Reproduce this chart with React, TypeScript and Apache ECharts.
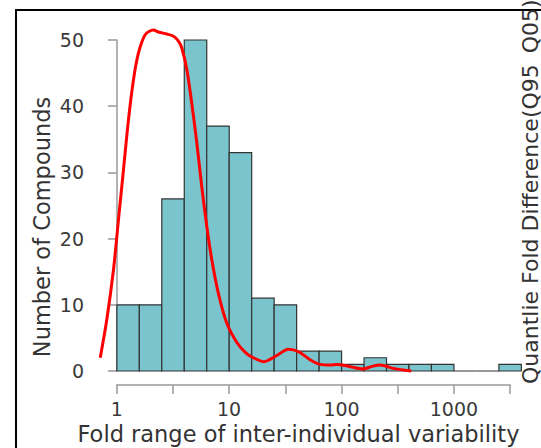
import React, { useEffect, useRef } from "react";
import * as echarts from "echarts";

// Histogram bins on log10(fold range)
const binStart = [0, 0.2, 0.4, 0.6, 0.8, 1.0, 1.2, 1.4, 1.6, 1.8, 2.0, 2.2, 2.4, 2.6, 2.8, 3.0, 3.2, 3.4];
const binEnd = [0.2, 0.4, 0.6, 0.8, 1.0, 1.2, 1.4, 1.6, 1.8, 2.0, 2.2, 2.4, 2.6, 2.8, 3.0, 3.2, 3.4, 3.6];
const binCounts = [10, 10, 26, 50, 37, 33, 11, 10, 3, 3, 1, 2, 1, 1, 1, 0, 0, 1];

// Density curve (log10 x, scaled count y)
const densityX = [-0.148, -0.09, -0.03, 0.014, 0.059, 0.103, 0.148, 0.192, 0.252, 0.326, 0.37, 0.445, 0.5, 0.545, 0.578, 0.623, 0.667, 0.712, 0.756, 0.801, 0.845, 0.904, 0.979, 1.068, 1.15, 1.215, 1.31, 1.42, 1.527, 1.62, 1.72, 1.81, 1.9, 1.96, 2.076, 2.19, 2.27, 2.343, 2.46, 2.62];
const densityY = [2.0, 7.7, 15.3, 22.8, 30.4, 37.9, 44.0, 48.0, 50.8, 51.5, 51.2, 50.9, 50.6, 49.9, 48.8, 45.5, 40.4, 34.4, 27.8, 21.8, 16.8, 11.7, 7.2, 4.3, 2.7, 2.0, 1.4, 2.3, 3.3, 2.9, 1.7, 1.0, 0.9, 1.0, 0.65, 0.3, 0.7, 0.9, 0.4, 0.0];

// Axis ticks
const yTicks = [0, 10, 20, 30, 40, 50];
const xTickLabels: Record<string, string> = { "0": "1", "1": "10", "2": "100", "3": "1000" };

const FONT = "'DejaVu Sans', Verdana, sans-serif";

export default function App() {
  const ref = useRef<HTMLDivElement>(null);
  useEffect(() => {
    if (!ref.current) return;
    const chart = echarts.init(ref.current, null, { renderer: "svg" });
    const bars = binStart.map((s, i) => [s, binEnd[i], binCounts[i]]);
    const dens = densityX.map((x, i) => [x, densityY[i]]);
    chart.setOption({
      animation: false,
      backgroundColor: "#fff",
      grid: [
        { left: 100, right: 2.8, top: 40, bottom: 77 },
        { left: 116.7, right: 30.9, top: 300, bottom: 63 },
      ],
      xAxis: [
        { type: "value", gridIndex: 0, min: -0.15, max: 3.75, show: false },
        {
          type: "value",
          gridIndex: 1,
          min: 0,
          max: 3.5,
          interval: 0.5,
          axisLine: { show: true, lineStyle: { color: "#999", width: 1.5 } },
          axisTick: { show: true, length: 9, lineStyle: { color: "#999", width: 1.5 } },
          splitLine: { show: false },
          axisLabel: {
            margin: 14,
            fontSize: 19,
            fontFamily: FONT,
            color: "#3a3a3a",
            formatter: (v: number) => xTickLabels[String(v)] ?? "",
          },
        },
      ],
      yAxis: [
        {
          type: "value",
          gridIndex: 0,
          min: yTicks[0],
          max: yTicks[yTicks.length - 1],
          interval: 10,
          axisLine: { show: true, lineStyle: { color: "#999", width: 1.5 } },
          axisTick: { show: true, length: 9, lineStyle: { color: "#999", width: 1.5 } },
          splitLine: { show: false },
          axisLabel: { margin: 16, fontSize: 19, fontFamily: FONT, color: "#3a3a3a" },
        },
        { type: "value", gridIndex: 1, min: 0, max: 1, show: false },
      ],
      graphic: [
        {
          type: "rect",
          shape: { x: 16, y: 10, width: 700, height: 700 },
          style: { fill: "none", stroke: "#000", lineWidth: 2 },
          silent: true,
        },
        {
          type: "text",
          x: 42,
          y: 227,
          rotation: Math.PI / 2,
          style: {
            text: "Number of Compounds",
            font: `22.5px ${FONT}`,
            fill: "#333",
            align: "center",
            verticalAlign: "middle",
            textAlign: "center",
            textVerticalAlign: "middle",
          },
        },
        {
          type: "text",
          x: 298.5,
          y: 434,
          style: {
            text: "Fold range of inter-individual variability",
            font: `22.5px ${FONT}`,
            fill: "#333",
            align: "center",
            verticalAlign: "middle",
            textAlign: "center",
            textVerticalAlign: "middle",
          },
        },
        {
          type: "text",
          x: 530,
          y: 384,
          rotation: Math.PI / 2,
          style: {
            text: "Quantlie Fold Difference(Q95_Q05)",
            font: `22px ${FONT}`,
            fill: "#333",
            align: "left",
            verticalAlign: "middle",
            textAlign: "left",
            textVerticalAlign: "middle",
          },
        },
      ],
      series: [
        {
          type: "custom",
          xAxisIndex: 0,
          yAxisIndex: 0,
          data: bars,
          encode: { x: [0, 1], y: 2 },
          clip: false,
          z: 2,
          renderItem: (params: any, api: any) => {
            const p0 = api.coord([api.value(0), api.value(2)]);
            const p1 = api.coord([api.value(1), 0]);
            return {
              type: "rect",
              shape: { x: p0[0], y: p0[1], width: p1[0] - p0[0], height: p1[1] - p0[1] },
              style: { fill: "#7AC5CD", stroke: "#333", lineWidth: 1.2 },
            };
          },
        },
        {
          type: "line",
          xAxisIndex: 0,
          yAxisIndex: 0,
          data: dens,
          smooth: 0.3,
          showSymbol: false,
          symbol: "none",
          clip: false,
          z: 5,
          lineStyle: { color: "#ff0000", width: 3 },
        },
      ],
    });
    return () => chart.dispose();
  }, []);
  return (
    <div
      ref={ref}
      style={{ position: "absolute", left: 0, top: 0, width: 541, height: 448 }}
    />
  );
}
